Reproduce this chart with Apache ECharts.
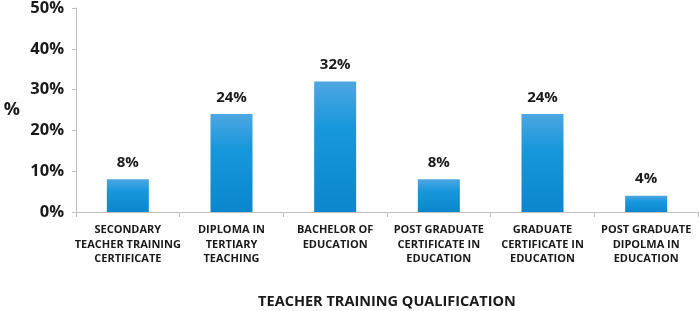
<!DOCTYPE html>
<html><head><meta charset="utf-8">
<script src="https://cdn.jsdelivr.net/npm/echarts@6/dist/echarts.min.js"></script>
<style>html,body{margin:0;padding:0;background:#fff}#c{width:699px;height:311px}</style>
</head><body><div id="c"></div>
<script>
const categories = [
  "SECONDARY\nTEACHER TRAINING\nCERTIFICATE",
  "DIPLOMA IN\nTERTIARY\nTEACHING",
  "BACHELOR OF\nEDUCATION",
  "POST GRADUATE\nCERTIFICATE IN\nEDUCATION",
  "GRADUATE\nCERTIFICATE IN\nEDUCATION",
  "POST GRADUATE\nDIPOLMA IN\nEDUCATION"
];
const values = [8, 24, 32, 8, 24, 4];
const yTicks = [0, 10, 20, 30, 40, 50];
const xTitle = "TEACHER TRAINING QUALIFICATION";
const yTitle = "%";

const FONT = "'Open Sans', 'Liberation Sans', sans-serif";
const chart = echarts.init(document.getElementById('c'));
chart.setOption({
  animation: false,
  grid: {left: 76, right: 1, top: 8, bottom: 99, containLabel: false, outerBoundsMode: 'none'},
  xAxis: {
    type: 'category', data: categories,
    name: xTitle, nameLocation: 'middle', nameGap: 82,
    nameTextStyle: {fontFamily: FONT, fontWeight: 'bold', fontSize: 14.5, color: '#1a1a1a'},
    axisLine: {lineStyle: {color: '#bfbfbf'}},
    axisTick: {show: true, length: 5, lineStyle: {color: '#bfbfbf'}},
    axisLabel: {fontFamily: FONT, fontWeight: 'bold', fontSize: 11, color: '#1a1a1a', lineHeight: 14.5, margin: 11, interval: 0}
  },
  yAxis: {
    type: 'value', min: yTicks[0], max: yTicks[yTicks.length-1], interval: 10,
    name: yTitle, nameLocation: 'middle', nameGap: 56, nameRotate: 0,
    nameTextStyle: {fontFamily: FONT, fontWeight: 'bold', fontSize: 18, color: '#1a1a1a'},
    axisLine: {show: true, lineStyle: {color: '#bfbfbf'}},
    axisTick: {show: true, length: 4, lineStyle: {color: '#bfbfbf'}},
    splitLine: {show: false},
    axisLabel: {fontFamily: FONT, fontWeight: 'bold', fontSize: 16.5, color: '#1a1a1a', margin: 12, formatter: v => v + '%'}
  },
  series: [{
    type: 'bar', data: values, barWidth: 42,
    itemStyle: {color: new echarts.graphic.LinearGradient(0,0,0,1,[
      {offset: 0, color: '#4ea6e2'}, {offset: 0.35, color: '#1898dc'}, {offset: 1, color: '#0a86cc'}])},
    label: {show: true, position: 'top', distance: 9, fontFamily: FONT, fontWeight: 'bold', fontSize: 15, color: '#1a1a1a', formatter: p => p.value + '%'}
  }]
});
</script></body></html>
